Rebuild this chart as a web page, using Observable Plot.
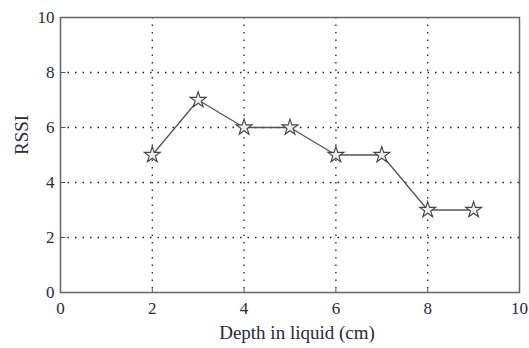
<!DOCTYPE html>
<html>
<head>
<meta charset="utf-8">
<script src="https://cdn.jsdelivr.net/npm/d3@7"></script>
<script src="https://cdn.jsdelivr.net/npm/@observablehq/plot@0.6"></script>
<style>
  body { margin: 0; background: #fff; }
  svg { display: block; }
</style>
</head>
<body>
<div id="chart"></div>
<script>
// RSSI readings against sensor depth in liquid
const depth = [2, 3, 4, 5, 6, 7, 8, 9];
const rssi = [5, 7, 6, 6, 5, 5, 3, 3];
const ticks = [0, 2, 4, 6, 8, 10];
const gridTicks = [2, 4, 6, 8];

const data = depth.map((d, i) => ({depth: d, rssi: rssi[i]}));

const font = "'Liberation Serif', 'DejaVu Serif', serif";
const textColor = "#262a42";

const chart = Plot.plot({
  width: 529,
  height: 348,
  marginLeft: 60,
  marginRight: 10,
  marginTop: 17,
  marginBottom: 56,
  style: {fontFamily: font, fontSize: "17px", color: textColor, background: "#fff"},
  x: {domain: [0, 10]},
  y: {domain: [0, 10]},
  marks: [
    // dotted grid
    Plot.ruleX(gridTicks, {stroke: "#222", strokeWidth: 1.3, strokeDasharray: "1.5,6", strokeOpacity: 1}),
    Plot.ruleY(gridTicks, {stroke: "#222", strokeWidth: 1.3, strokeDasharray: "1.5,6", strokeOpacity: 1}),
    // short inward ticks along the bottom and left edges
    Plot.ruleX(ticks, {x: d => d, y1: 0, y2: 0.12, stroke: "#555"}),
    Plot.ruleY(ticks, {y: d => d, x1: 0, x2: 0.12, stroke: "#555"}),
    Plot.frame({stroke: "#666", strokeWidth: 1.5}),
    Plot.axisX(ticks, {tickSize: 0, tickPadding: 9, fontSize: 17, fill: textColor, label: null}),
    Plot.axisY(ticks, {tickSize: 0, tickPadding: 6, fontSize: 17, fill: textColor, label: null}),
    Plot.text(["Depth in liquid (cm)"], {frameAnchor: "bottom", dx: 7, dy: 46, fontSize: 19, fill: textColor}),
    Plot.text(["RSSI"], {frameAnchor: "left", dx: -39, rotate: -90, fontSize: 19, fill: textColor}),
    Plot.line(data, {x: "depth", y: "rssi", stroke: "#555", strokeWidth: 1.3}),
    Plot.dot(data, {x: "depth", y: "rssi", symbol: "star", r: 5, fill: "#eee", stroke: "#444", strokeWidth: 1.1})
  ]
});

document.getElementById("chart").appendChild(chart);
</script>
</body>
</html>
